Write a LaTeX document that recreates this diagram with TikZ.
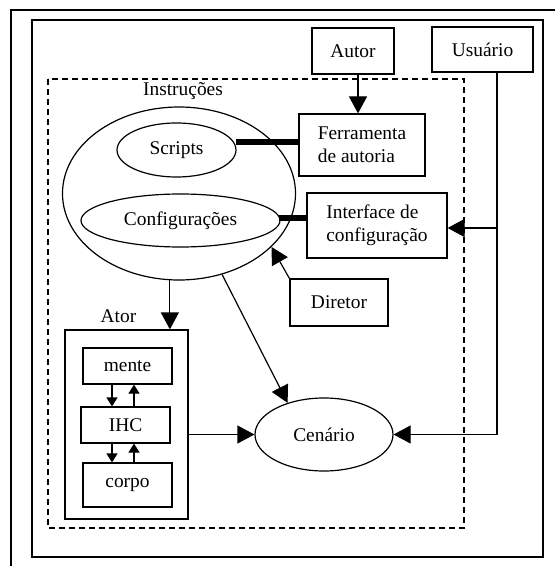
\documentclass[tikz,border=0pt]{standalone}
\usepackage{fontspec}
\setmainfont{Liberation Serif}
\usetikzlibrary{shapes.geometric, arrows.meta, positioning, calc}

\begin{document}
\begin{tikzpicture}[x=0.5pt,y=-0.5pt,
  font=\fontsize{9.7}{11.5}\selectfont,
  box/.style={draw, line width=0.6pt, inner sep=0pt, align=left},
  elli/.style={draw, ellipse, line width=0.6pt, inner sep=0pt},
  arr/.style={-{Triangle[length=8.5pt,width=9pt]}, line width=0.6pt},
  sarr/.style={-{Triangle[length=4.5pt,width=5.5pt]}, line width=0.6pt},
  bar/.style={line width=2.6pt}]
  \useasboundingbox (0,0) rectangle (555,566);

  % Frames
  \draw[line width=0.75pt] (555,10) -- (11,10) -- (11,566);
  \draw[line width=0.65pt] (32,20) rectangle (543,557);
  \draw[line width=0.65pt, dash pattern=on 3pt off 2pt] (48,79) rectangle (464,528);
  \node (instr) at (183,91) {Instruções};

  % Outside agents
  \node[box, minimum width=41pt, minimum height=23pt] (autor) at (353,51) {Autor};
  \node[box, minimum width=50.5pt, minimum height=22.5pt] (usuario) at (482.5,49.5) {Usuário};

  % Instructions
  \node[elli, minimum width=116.5pt, minimum height=86.5pt] (big) at (179,193.5) {};
  \node[elli, minimum width=59.5pt, minimum height=27pt] (scripts) at (176.5,150) {Scripts};
  \node[elli, minimum width=99.5pt, minimum height=26.5pt] (config) at (180.5,220.5) {Configurações};

  % Tools
  \node[box, minimum width=63pt, minimum height=31pt] (ferr) at (362,145) {Ferramenta\\de autoria};
  \node[box, minimum width=70pt, minimum height=32.5pt] (iface) at (377,225.5) {Interface de\\configuração};
  \node[box, minimum width=49pt, minimum height=23.5pt] (diretor) at (339,302.5) {Diretor};

  % Actor
  \node[box, minimum width=61.5pt, minimum height=94.5pt] (ator) at (126.5,424.5) {};
  \node[above, xshift=-4pt] (atorlbl) at (ator.north) {Ator};
  \node[box, minimum width=44.5pt, minimum height=18pt] (mente) at (127.5,366) {mente};
  \node[box, minimum width=44.5pt, minimum height=18pt] (ihc) at (125.5,425) {IHC};
  \node[box, minimum width=44.5pt, minimum height=22pt] (corpo) at (127.5,485) {corpo};

  % Scene
  \node[elli, minimum width=69pt, minimum height=36.5pt] (cen) at (324,434.5) {Cenário};

  % Links
  \draw[arr] ($(autor.south)+(5,0)$) -- ($(ferr.north)+(-4,0)$);
  \draw[bar] ($(scripts.east)+(-0.5,-8)$) -- ($(ferr.west)+(0,-3)$);
  \draw[bar] ($(config.east)+(-2,-2.5)$) -- ($(iface.west)+(0,-7.5)$);
  \draw[arr] (diretor.north west) -- (big.-30);
  \draw[arr] (big.-96) -- (big.-96 |- ator.north);
  \draw[arr] (big.-62) -- (cen.139);
  \draw[arr] (cen.west -| ator.east) -- (cen.west);

  % User line
  \coordinate (ucorner) at (497,434.5);
  \draw[line width=0.6pt] (ucorner |- usuario.south) -- (ucorner);
  \draw[arr] ($(ucorner |- iface.east)+(0,2.5)$) -- ($(iface.east)+(0,2.5)$);
  \draw[arr] (ucorner) -- (cen.east);

  % Inside the actor
  \draw[sarr] ($(mente.south)+(-15.5,0)$) -- ($(ihc.north)+(-13.5,0)$);
  \draw[sarr] ($(ihc.north)+(8.5,0)$) -- ($(mente.south)+(6.5,0)$);
  \draw[sarr] ($(ihc.south)+(-13.5,0)$) -- ($(corpo.north)+(-15.5,0)$);
  \draw[sarr] ($(corpo.north)+(6.5,0)$) -- ($(ihc.south)+(8.5,0)$);
\end{tikzpicture}
\end{document}
